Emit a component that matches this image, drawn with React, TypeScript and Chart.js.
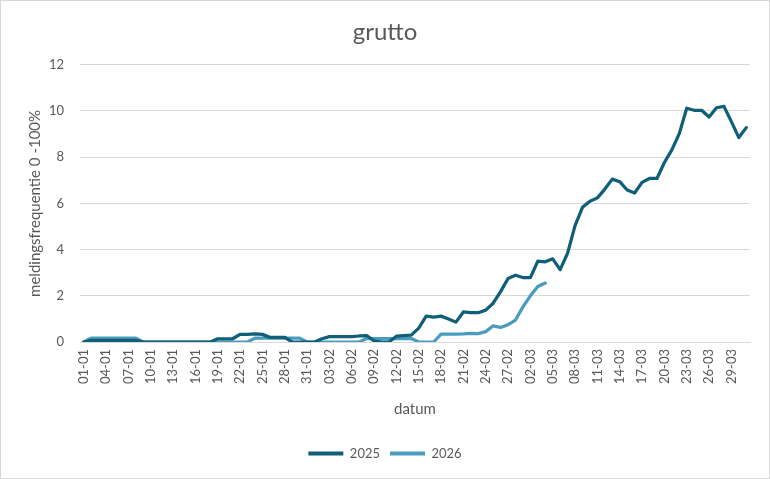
import { useEffect, useRef } from 'react'
import { Chart, registerables } from 'chart.js'

Chart.register(...registerables)

// categories: every day from 01-01 to 31-03
const monthDays: [string, number][] = [
  ['01', 31],
  ['02', 28],
  ['03', 31],
]
const labels: string[] = []
monthDays.forEach(([m, n]) => {
  for (let d = 1; d <= n; d++) labels.push(`${String(d).padStart(2, '0')}-${m}`)
})

const seriesNames = ['2025', '2026']

// meldingsfrequentie per dag (%)
const values2025 = [
  0, 0.07, 0.07, 0.07, 0.07, 0.07, 0.07, 0.07, 0, 0,
  0, 0, 0, 0, 0, 0, 0, 0, 0.14, 0.14,
  0.14, 0.33, 0.33, 0.35, 0.33, 0.2, 0.2, 0.2, 0, 0,
  0, 0, 0.14, 0.23, 0.23, 0.23, 0.23, 0.26, 0.28, 0.05,
  0, 0, 0.25, 0.28, 0.3, 0.6, 1.12, 1.08, 1.12, 1.0,
  0.86, 1.3, 1.27, 1.27, 1.38, 1.68, 2.18, 2.75, 2.89, 2.79,
  2.79, 3.5, 3.47, 3.6, 3.13, 3.85, 5.04, 5.83, 6.09, 6.24,
  6.62, 7.05, 6.94, 6.58, 6.45, 6.91, 7.08, 7.08, 7.77, 8.32,
  9.02, 10.12, 10.03, 10.03, 9.74, 10.14, 10.2, 9.54, 8.85, 9.28,
]

const values2026 = [
  0, 0.17, 0.17, 0.17, 0.17, 0.17, 0.17, 0.17, 0, 0,
  0, 0, 0, 0, 0, 0, 0, 0, 0, 0,
  0, 0, 0, 0.17, 0.17, 0.17, 0.17, 0.17, 0.17, 0.17,
  0, 0, 0, 0, 0, 0, 0, 0, 0.15, 0.15,
  0.15, 0.15, 0.15, 0.15, 0.15, 0, 0, 0, 0.34, 0.34,
  0.34, 0.35, 0.37, 0.36, 0.45, 0.7, 0.63, 0.75, 0.95, 1.52,
  2.0, 2.4, 2.55,
]

const yTicks = [0, 2, 4, 6, 8, 10, 12]

const textColor = '#595959'
const gridColor = '#d9d9d9'
const font = 'Lato'

const frame = {
  id: 'frame',
  beforeDraw(chart: any) {
    const { ctx, width, height } = chart
    ctx.save()
    ctx.fillStyle = '#ffffff'
    ctx.fillRect(0, 0, width, height)
    ctx.strokeStyle = gridColor
    ctx.lineWidth = 1
    ctx.strokeRect(0.5, 0.5, width - 1, height - 1)
    ctx.restore()
  },
}

export default function App() {
  const chartRef = useRef<HTMLCanvasElement>(null)
  const chartInstance = useRef<Chart | null>(null)

  useEffect(() => {
    document.body.style.margin = '0'
    if (chartInstance.current) chartInstance.current.destroy()
    const ctx = chartRef.current!.getContext('2d')!

    chartInstance.current = new Chart(ctx, {
      type: 'line',
      data: {
        labels,
        datasets: [
          {
            label: seriesNames[0],
            data: values2025,
            borderColor: '#0f5f78',
            backgroundColor: '#0f5f78',
            borderWidth: 3.25,
            pointRadius: 0,
            tension: 0,
            borderJoinStyle: 'round',
            borderCapStyle: 'round',
          },
          {
            label: seriesNames[1],
            data: values2026,
            borderColor: '#4a9cbf',
            backgroundColor: '#4a9cbf',
            borderWidth: 3.25,
            pointRadius: 0,
            tension: 0,
            borderJoinStyle: 'round',
            borderCapStyle: 'round',
          },
        ],
      },
      options: {
        animation: false,
        responsive: true,
        maintainAspectRatio: false,
        layout: { padding: { left: 20, right: 20, top: 0, bottom: 9 } },
        scales: {
          x: {
            offset: true,
            grid: { display: false, drawTicks: false },
            border: { display: true, color: gridColor },
            afterFit: (scale: any) => {
              scale.height = 95
            },
            ticks: {
              autoSkip: false,
              maxRotation: 90,
              minRotation: 90,
              padding: 7,
              color: textColor,
              font: { family: font, size: 13 },
              callback: (_v: any, i: number) => (i % 3 === 0 ? labels[i] : ''),
            },
            title: {
              display: true,
              text: 'datum',
              color: textColor,
              font: { family: font, size: 15 },
              padding: { top: 4, bottom: 19 },
            },
          },
          y: {
            min: 0,
            max: 12,
            afterFit: (scale: any) => {
              scale.width = 60
            },
            afterBuildTicks: (scale: any) => {
              scale.ticks = yTicks.map((v) => ({ value: v }))
            },
            grid: { color: gridColor, drawTicks: false },
            border: { display: false },
            ticks: {
              padding: 16,
              color: textColor,
              font: { family: font, size: 13 },
            },
            title: {
              display: true,
              text: 'meldingsfrequentie 0 -100%',
              color: textColor,
              font: { family: font, size: 15 },
              padding: { top: 6, bottom: 0 },
            },
          },
        },
        plugins: {
          title: {
            display: true,
            text: 'grutto',
            color: textColor,
            font: { family: font, size: 24, weight: 'normal' },
            padding: { top: 18, bottom: 18 },
          },
          legend: {
            position: 'bottom',
            labels: {
              color: textColor,
              font: { family: font, size: 13 },
              boxWidth: 35,
              boxHeight: 4,
              padding: 10,
              generateLabels: (chart: any) =>
                Chart.defaults.plugins.legend.labels
                  .generateLabels(chart)
                  .map((l: any) => ({ ...l, lineWidth: 0 })),
            },
          },
          tooltip: { enabled: false },
        },
      },
      plugins: [frame],
    })

    return () => {
      if (chartInstance.current) {
        chartInstance.current.destroy()
        chartInstance.current = null
      }
    }
  }, [])

  return (
    <div style={{ position: 'absolute', left: 0, top: 0, width: 770, height: 479 }}>
      <canvas ref={chartRef} />
    </div>
  )
}
